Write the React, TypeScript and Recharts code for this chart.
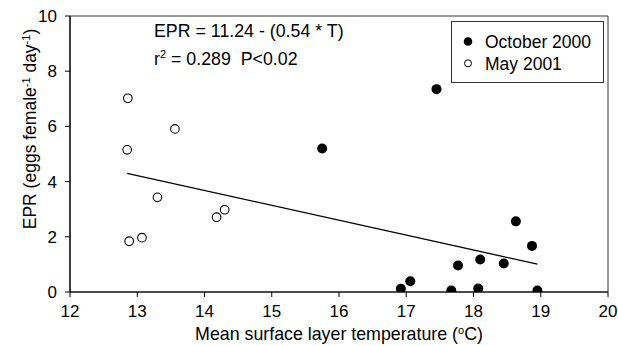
import React from 'react';
import { ScatterChart, Scatter, XAxis, YAxis, ReferenceArea, Legend } from 'recharts';

// October 2000 cruise (filled)
const octoberTemp = [15.75, 17.45, 16.92, 17.06, 17.67, 17.77, 18.07, 18.1, 18.45, 18.63, 18.87, 18.95];
const octoberEpr = [5.2, 7.35, 0.12, 0.39, 0.05, 0.96, 0.13, 1.18, 1.03, 2.56, 1.67, 0.05];

// May 2001 cruise (open)
const mayTemp = [12.86, 12.85, 13.56, 13.3, 12.88, 13.07, 14.18, 14.3];
const mayEpr = [7.02, 5.15, 5.91, 3.43, 1.84, 1.97, 2.71, 2.98];

// regression line end points
const fitTemp = [12.85, 18.95];
const fitEpr = [4.3, 1.01];

const xTicks = [12, 13, 14, 15, 16, 17, 18, 19, 20];
const yTicks = [0, 2, 4, 6, 8, 10];

const seriesNames = ['October 2000', 'May 2001'];

const FONT = '"Liberation Sans", Arial, Helvetica, sans-serif';

const toPoints = (xs: number[], ys: number[]) => xs.map((x, i) => ({ x, y: ys[i] }));

const octoberData = toPoints(octoberTemp, octoberEpr);
const mayData = toPoints(mayTemp, mayEpr);
const fitData = toPoints(fitTemp, fitEpr);

const FilledDot = (props: any) => <circle cx={props.cx} cy={props.cy} r={5} fill="#000" />;
const OpenDot = (props: any) => (
  <circle cx={props.cx} cy={props.cy} r={4.3} fill="#fff" stroke="#000" strokeWidth={1.1} />
);
const NoDot = () => <g />;

function LegendBox() {
  return (
    <svg width={153} height={62} style={{ display: 'block' }}>
      <rect x={0.5} y={0.5} width={152} height={61} fill="#fff" stroke="#333" strokeWidth={1} />
      <circle cx={17} cy={20.5} r={4.3} fill="#000" />
      <text x={34} y={27} fontFamily={FONT} fontSize={17.5} fill="#000">
        {seriesNames[0]}
      </text>
      <circle cx={17} cy={42.3} r={3.5} fill="#fff" stroke="#000" strokeWidth={1} />
      <text x={34} y={48.7} fontFamily={FONT} fontSize={17.5} fill="#000">
        {seriesNames[1]}
      </text>
    </svg>
  );
}

export default function App() {
  const tickStyle = { fontSize: 17, fill: '#000', fontFamily: FONT };
  return (
    <div style={{ width: 618, height: 346, background: '#fff' }}>
      <style>{'body{margin:0}'}</style>
      <ScatterChart width={618} height={346} margin={{ top: 16, right: 10, left: 0, bottom: 0 }}>
        <ReferenceArea x1={12} x2={20} y1={0} y2={10} fill="none" stroke="#333" strokeWidth={1} ifOverflow="visible" />
        <XAxis
          type="number"
          dataKey="x"
          domain={[12, 20]}
          ticks={xTicks}
          allowDataOverflow
          height={54}
          tickSize={5}
          tickMargin={8}
          tick={tickStyle}
          axisLine={{ stroke: '#000', strokeWidth: 1.2 }}
          tickLine={{ stroke: '#000', strokeWidth: 1 }}
        />
        <YAxis
          type="number"
          dataKey="y"
          domain={[0, 10]}
          ticks={yTicks}
          allowDataOverflow
          width={70}
          tickSize={5}
          tickMargin={8}
          tick={tickStyle}
          axisLine={{ stroke: '#000', strokeWidth: 1.2 }}
          tickLine={{ stroke: '#000', strokeWidth: 1 }}
        />
        <Scatter
          data={fitData}
          line={{ stroke: '#000', strokeWidth: 1.3 }}
          shape={NoDot}
          legendType="none"
          isAnimationActive={false}
        />
        <Scatter name={seriesNames[1]} data={mayData} shape={OpenDot} isAnimationActive={false} />
        <Scatter name={seriesNames[0]} data={octoberData} shape={FilledDot} isAnimationActive={false} />
        <Legend
          layout="vertical"
          align="center"
          verticalAlign="middle"
          content={() => <LegendBox />}
          wrapperStyle={{ top: 21, left: 451, width: 153, height: 62 }}
        />
        <text x={154} y={36.5} fontFamily={FONT} fontSize={17.8} fill="#000">
          EPR = 11.24 - (0.54 * T)
        </text>
        <text x={154} y={65} fontFamily={FONT} fontSize={17.8} fill="#000" style={{ whiteSpace: 'pre' }}>
          r<tspan dy={-7} fontSize={11}>2</tspan>
          <tspan dy={7}>{' = 0.289  P<0.02'}</tspan>
        </text>
        <text
          transform="translate(36,129) rotate(-90)"
          textAnchor="middle"
          fontFamily={FONT}
          fontSize={17.5}
          fill="#000"
        >
          EPR (eggs female<tspan dy={-6} fontSize={11}>-1</tspan>
          <tspan dy={6}> day</tspan>
          <tspan dy={-6} fontSize={11}>-1</tspan>
          <tspan dy={6}>)</tspan>
        </text>
        <text x={339} y={340} textAnchor="middle" fontFamily={FONT} fontSize={17.8} fill="#000">
          Mean surface layer temperature (<tspan dy={-6} fontSize={11}>o</tspan>
          <tspan dy={6}>C)</tspan>
        </text>
      </ScatterChart>
    </div>
  );
}
